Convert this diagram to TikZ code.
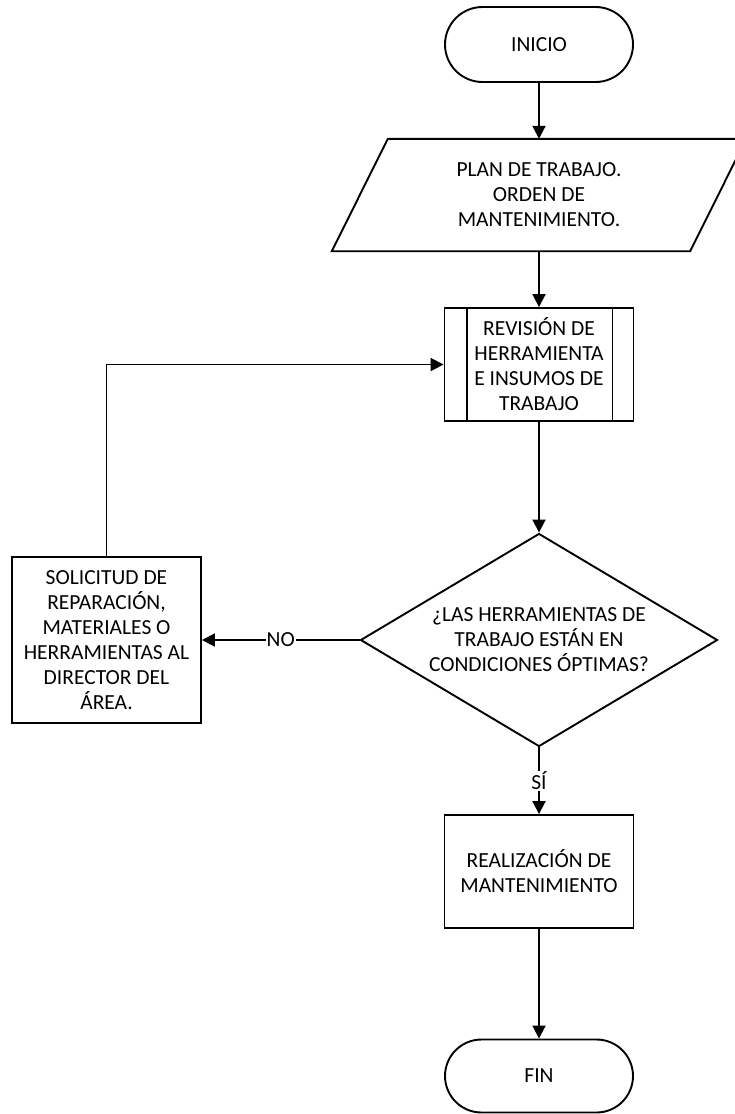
\documentclass[tikz,border=0pt]{standalone}
\usepackage{fontspec}
\setmainfont{Carlito}
\usetikzlibrary{arrows.meta,shapes.geometric,shapes.misc}
\begin{document}
\begin{tikzpicture}[x=1pt,y=-1pt,
  every node/.style={font=\fontsize{21.5}{25}\selectfont, align=center, inner sep=0pt},
  shp/.style={draw, line width=1.9pt},
  term/.style={shp, rounded rectangle, minimum width=188pt, minimum height=75pt},
  proc/.style={shp, rectangle, minimum width=189pt, minimum height=113pt},
  lbl/.style={fill=white, inner sep=1pt},
  conn/.style={line width=1.9pt, -{Triangle[length=13pt,width=13pt]}}]
\useasboundingbox (0,0) rectangle (735,1114);
% nodes
\node[term] (inicio) at (539,44.5) {INICIO};
\node[minimum width=358pt, minimum height=112pt] (plan) at (539,195) {PLAN DE TRABAJO.\\ORDEN DE\\MANTENIMIENTO.};
\draw[shp] ([xshift=28pt]plan.north west) -- ([xshift=28pt]plan.north east)
  -- ([xshift=-28pt]plan.south east) -- ([xshift=-28pt]plan.south west) -- cycle;
\node[proc] (rev) at (539,364.5) {REVISIÓN DE\\HERRAMIENTA\\E INSUMOS DE\\TRABAJO};
\draw[shp] ([xshift=23pt]rev.north west) -- ([xshift=23pt]rev.south west);
\draw[shp] ([xshift=-22pt]rev.north east) -- ([xshift=-22pt]rev.south east);
\node[shp, diamond, aspect=1.676, minimum width=357pt, minimum height=213pt] (dec) at (539,640) {¿LAS HERRAMIENTAS DE\\TRABAJO ESTÁN EN\\CONDICIONES ÓPTIMAS?};
\node[shp, rectangle, minimum width=189pt, minimum height=166pt] (sol) at (106.5,640) {SOLICITUD DE\\REPARACIÓN,\\MATERIALES O\\HERRAMIENTAS AL\\DIRECTOR DEL\\ÁREA.};
\node[proc] (real) at (539,871.5) {REALIZACIÓN DE\\MANTENIMIENTO};
\node[term, minimum height=73pt] (fin) at (539,1076) {FIN};
% connectors
\draw[conn] (inicio) -- (inicio |- plan.north);
\draw[conn] (plan.south) -- (rev.north);
\draw[conn] (rev) -- (dec);
\draw[conn] (dec) -- node[lbl] (no) {NO} (sol);
\draw[conn] (sol.north) |- (rev.west);
\draw[conn] (dec) -- node[lbl] (si) {SÍ} (real);
\draw[conn] (real) -- (fin);
\end{tikzpicture}
\end{document}
